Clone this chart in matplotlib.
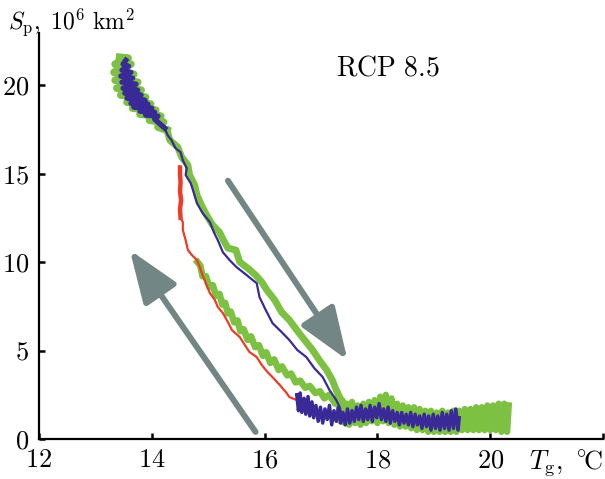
import numpy as np
import matplotlib.pyplot as plt

plt.rcParams['mathtext.fontset'] = 'cm'
plt.rcParams['font.family'] = 'serif'
plt.rcParams['font.serif'] = ['cmr10', 'DejaVu Serif']
plt.rcParams['axes.formatter.use_mathtext'] = True

# ---- data (Tg in C, Sp in 10^6 km^2) ----
# green run, noisy start at the top
green_top_x = [13.43, 13.58, 13.35, 13.63, 13.33, 13.68, 13.35, 13.75, 13.38, 13.81,
               13.45, 13.89, 13.56, 13.98, 13.66, 14.07, 13.79, 14.16, 13.96, 14.21,
               14.11, 14.27]
green_top_y = [21.58, 21.53, 21.19, 21.19, 20.73, 20.62, 20.28, 20.17, 19.83, 19.72,
               19.44, 19.32, 19.04, 18.93, 18.70, 18.59, 18.36, 18.25, 18.02, 17.91,
               17.63, 17.46]

# green run, warming along the upper branch
green_warm_x = [14.27, 14.32, 14.46, 14.53, 14.64, 14.67, 14.76, 14.80,
                14.88, 14.97, 15.08, 15.20, 15.27, 15.35, 15.49, 15.56, 15.70, 15.84,
                15.95, 16.04, 16.18, 16.30, 16.44, 16.57, 16.71, 16.85, 16.97, 17.10,
                17.20, 17.27, 17.38, 17.50]
green_warm_y = [17.46, 16.89, 16.50, 15.93, 15.48, 14.92, 14.35, 13.79,
                13.22, 12.66, 12.09, 11.69, 11.24, 10.79, 10.68, 10.00, 9.66, 9.27,
                8.87, 8.42, 7.85, 7.18, 6.72, 6.16, 5.59, 5.03, 4.46, 3.90,
                3.33, 2.77, 2.03, 1.64]

# green run, noisy plateau at high temperature
green_flat_x = [17.30, 17.34, 17.38, 17.42, 17.46, 17.50, 17.55, 17.60, 17.65, 17.70,
                17.75, 17.80, 17.85, 17.90, 17.95, 18.00, 18.05, 18.10, 18.15, 18.20,
                18.25, 18.30, 18.35, 18.40, 18.45, 18.50, 18.55, 18.60, 18.65, 18.70,
                18.75, 18.80, 18.85, 18.90, 18.95, 19.00, 19.05, 19.10, 19.15, 19.20,
                19.25, 19.30, 19.35, 19.40, 19.45, 19.50, 19.55, 19.60, 19.65, 19.70,
                19.75, 19.80, 19.85, 19.90, 19.95, 20.00, 20.05, 20.10, 20.15, 20.20,
                20.25, 20.30, 20.33]
green_flat_y = [2.3, 1.0, 2.2, 0.9, 2.0, 0.8, 2.1, 0.9, 1.9, 0.8,
                2.0, 0.9, 2.1, 1.0, 2.2, 0.9, 2.4, 1.0, 2.5, 0.9,
                2.3, 0.8, 2.0, 0.7, 1.9, 0.7, 1.8, 0.6, 1.8, 0.5,
                1.7, 0.5, 1.6, 0.4, 1.6, 0.4, 1.5, 0.4, 1.6, 0.4,
                1.5, 0.4, 1.6, 0.4, 1.6, 0.5, 1.7, 0.5, 1.7, 0.5,
                1.8, 0.5, 1.8, 0.5, 1.9, 0.5, 1.9, 0.5, 2.0, 0.4,
                2.0, 0.4, 1.9]

# green run, cooling along the lower branch
green_cool_x = [17.56, 17.48, 17.42, 17.33, 17.25, 17.15, 17.06, 16.98, 16.90, 16.80,
                16.72, 16.63, 16.55, 16.47, 16.40, 16.31, 16.25, 16.17, 16.10, 16.03,
                15.97, 15.90, 15.83, 15.76, 15.70, 15.63, 15.57, 15.52, 15.46, 15.40,
                15.35, 15.30, 15.25, 15.20, 15.14, 15.08, 15.02, 14.96, 14.90, 14.86,
                14.81]
green_cool_y = [1.5, 1.9, 1.7, 2.2, 2.0, 2.5, 2.3, 2.7, 2.6, 3.0,
                2.9, 3.3, 3.2, 3.7, 3.6, 4.1, 3.9, 4.5, 4.3, 4.9,
                4.7, 5.3, 5.2, 5.8, 5.6, 6.2, 6.1, 6.7, 6.6, 7.2,
                7.1, 7.7, 7.6, 8.2, 8.1, 8.7, 8.6, 9.2, 9.2, 9.8,
                10.0]

# red run, cooling only
red_x = [16.57, 16.44, 16.39, 16.27, 16.14, 16.05, 15.95, 15.86, 15.73, 15.65,
         15.56, 15.42, 15.35, 15.26, 15.17, 15.12, 15.03, 14.97, 14.90, 14.85,
         14.80, 14.71, 14.64, 14.60, 14.55, 14.55, 14.51]
red_y = [2.20, 2.37, 2.60, 3.05, 3.50, 3.79, 4.18, 4.63, 4.92, 5.31,
         5.76, 6.16, 6.61, 7.12, 7.46, 7.85, 8.25, 8.70, 9.27, 9.72,
         10.11, 10.40, 10.68, 11.24, 11.81, 12.26, 12.5]
# red run, thick vertical start
red_top_x = [14.51, 14.50, 14.52, 14.50, 14.51, 14.50, 14.50]
red_top_y = [12.5, 13.0, 13.5, 14.0, 14.5, 15.0, 15.35]

# blue run, noisy start at the top
blue_top_x = [13.54, 13.49, 13.59, 13.47, 13.63, 13.45, 13.66, 13.47, 13.72, 13.49,
              13.75, 13.52, 13.81, 13.56, 13.88, 13.63, 13.93, 13.68, 14.00, 13.79,
              14.05, 13.89, 14.11, 14.05, 14.23]
blue_top_y = [21.41, 21.19, 21.07, 20.85, 20.73, 20.51, 20.40, 20.17, 20.06, 19.83,
              19.72, 19.55, 19.44, 19.27, 19.15, 18.98, 18.93, 18.76, 18.70, 18.53,
              18.47, 18.31, 18.25, 18.08, 17.57]

# blue run, warming along the upper branch
blue_warm_x = [14.23, 14.28, 14.35, 14.42, 14.51, 14.55,
               14.62, 14.60, 14.69, 14.73, 14.80, 14.90, 15.03, 15.10, 15.17, 15.26,
               15.38, 15.50, 15.68, 15.79, 15.86, 15.91, 16.02, 16.14, 16.30, 16.44,
               16.58, 16.74, 16.88, 17.03, 17.15, 17.27, 17.33, 17.38]
blue_warm_y = [17.57, 17.18, 16.89, 16.44, 16.21, 15.76,
               15.31, 14.92, 14.46, 14.07, 13.33, 12.77, 12.26, 11.69, 11.24, 10.56,
               10.11, 9.72, 9.27, 8.98, 8.81, 8.02, 7.29, 6.55, 6.05, 5.59,
               5.03, 4.63, 4.01, 3.50, 2.77, 2.20, 1.81, 1.24]

# blue run, noisy plateau
blue_flat_x = [16.57, 16.60, 16.63, 16.66, 16.70, 16.73, 16.77, 16.80, 16.84, 16.87,
               16.91, 16.95, 16.99, 17.03, 17.07, 17.11, 17.15, 17.19, 17.23, 17.27,
               17.31, 17.35, 17.39, 17.43, 17.47, 17.51, 17.55, 17.59, 17.63, 17.67,
               17.71, 17.75, 17.79, 17.83, 17.87, 17.91, 17.95, 17.99, 18.03, 18.07,
               18.11, 18.15, 18.19, 18.23, 18.27, 18.31, 18.35, 18.39, 18.43, 18.47,
               18.51, 18.55, 18.59, 18.63, 18.67, 18.71, 18.75, 18.79, 18.83, 18.87,
               18.91, 18.95, 18.99, 19.03, 19.07, 19.11, 19.15, 19.19, 19.23, 19.27,
               19.31, 19.35, 19.39, 19.43, 19.45]
blue_flat_y = [2.5, 1.6, 2.6, 1.5, 2.3, 1.4, 2.4, 1.3, 2.1, 1.2,
               1.9, 1.0, 1.8, 0.9, 1.7, 1.1, 1.9, 0.8, 1.6, 1.0,
               1.8, 0.9, 1.5, 0.8, 1.7, 0.9, 1.6, 1.0, 1.8, 1.1,
               1.9, 1.0, 1.7, 1.1, 1.9, 1.0, 1.8, 1.2, 2.0, 1.1,
               1.7, 1.0, 1.8, 0.9, 1.6, 1.0, 1.5, 0.8, 1.5, 0.9,
               1.4, 0.8, 1.5, 0.7, 1.4, 0.8, 1.3, 0.6, 1.4, 0.7,
               1.3, 0.5, 1.4, 0.6, 1.3, 0.5, 1.5, 0.6, 1.4, 0.5,
               1.6, 0.6, 1.7, 0.5, 1.2]

# direction arrows (tail, tip)
arrow_down = [(15.35, 14.6), (17.47, 4.46)]
arrow_up = [(15.84, 0.40), (13.61, 10.68)]

x_ticks = [12, 14, 16, 18, 20, 22]
x_labels = ['12', '14', '16', '18', '20', '']
y_ticks = [0, 5, 10, 15, 20]
y_labels = ['0', '5', '10', '15', '20']

green = '#7cc142'
blue = '#3a2a98'
red = '#ef3b24'
grey = '#728686'

fig = plt.figure(figsize=(6.05, 4.79), dpi=100)
ax = fig.add_axes([39/605, 40/479, 564/605, 406/479])

ax.plot(green_top_x, green_top_y, color=green, lw=5.5)
ax.plot(green_warm_x, green_warm_y, color=green, lw=5)
ax.plot(green_flat_x, green_flat_y, color=green, lw=4.5)
ax.plot(green_cool_x, green_cool_y, color=green, lw=4.8)
ax.plot(red_x, red_y, color=red, lw=1.6)
ax.plot(red_top_x, red_top_y, color=red, lw=3.2)
ax.plot(blue_top_x, blue_top_y, color=blue, lw=3.8)
ax.plot(blue_warm_x, blue_warm_y, color=blue, lw=1.6)
ax.plot(blue_flat_x, blue_flat_y, color=blue, lw=2.5)

for tail, tip in [arrow_down, arrow_up]:
    ax.annotate('', xy=tip, xytext=tail,
                arrowprops=dict(arrowstyle='-|>,head_length=1.6,head_width=0.6',
                                lw=4.3, color=grey, mutation_scale=20,
                                shrinkA=0, shrinkB=0))

ax.text(18.18, 20.96, r'$\mathrm{RCP\ 8.5}$', fontsize=20, ha='center', va='center')

ax.set_xlim(12, 22)
ax.set_ylim(0, 22.95)
ax.set_xticks(x_ticks)
ax.set_xticklabels(['$%s$' % s if s else '' for s in x_labels])
ax.set_yticks(y_ticks)
ax.set_yticklabels(['$%s$' % s for s in y_labels])
ax.tick_params(direction='in', length=4, width=1.8, labelsize=19)
ax.tick_params(axis='x', pad=7)
ax.tick_params(axis='y', pad=7)

for s in ['top', 'right']:
    ax.spines[s].set_visible(False)
for s in ['left', 'bottom']:
    ax.spines[s].set_linewidth(1.6)

ax.text(1.0, -0.058, r'$T_\mathrm{g},\ {}^{\circ}\!\mathrm{C}$', transform=ax.transAxes,
        fontsize=19, ha='right', va='center')
fig.text(8/605, 1 - 29/479, r'$S_\mathrm{p},\ 10^6\ \mathrm{km}^2$',
         fontsize=17, ha='left', va='baseline')

fig.savefig('out.png', dpi=100)
